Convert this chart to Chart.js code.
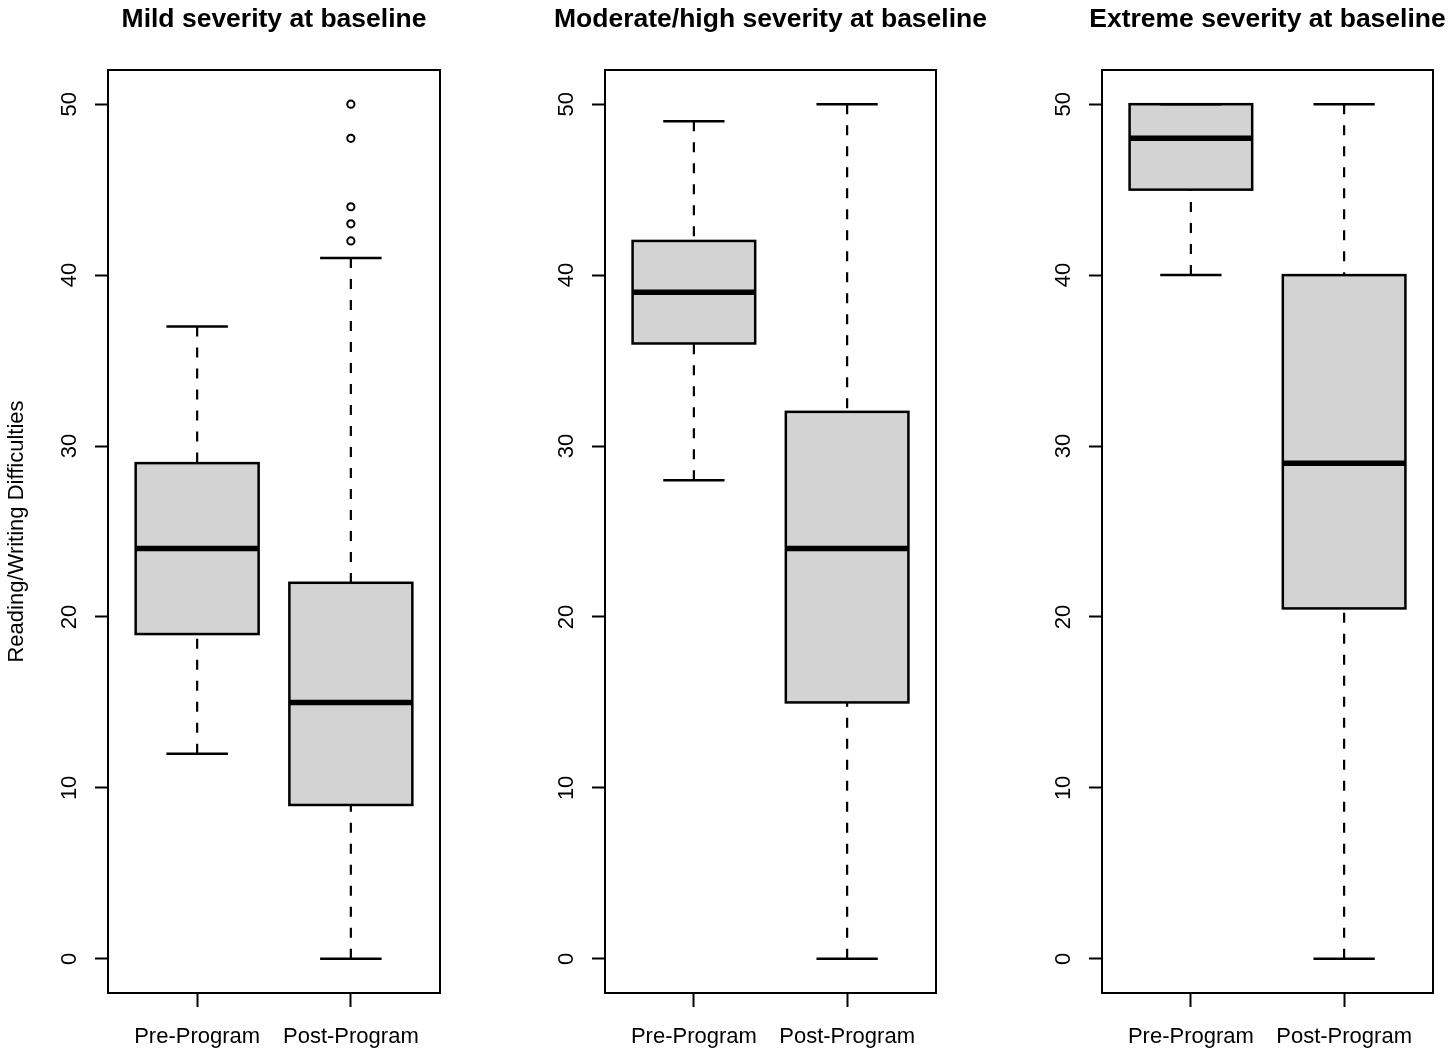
<!DOCTYPE html>
<html>
<head>
<meta charset="utf-8">
<script src="https://cdn.jsdelivr.net/npm/chart.js@4.4.1/dist/chart.umd.min.js"></script>
<style>
html,body{margin:0;padding:0;background:#fff;overflow:hidden;width:1451px;height:1054px;}
canvas{position:absolute;top:0;}
</style>
</head>
<body>
<canvas id="c0"></canvas>
<canvas id="c1"></canvas>
<canvas id="c2"></canvas>
<script>
// ---------- data ----------
const panelTitles = ["Mild severity at baseline", "Moderate/high severity at baseline", "Extreme severity at baseline"];
const categories = ["Pre-Program", "Post-Program"];
const yTickValues = [0, 10, 20, 30, 40, 50];
const yAxisTitle = "Reading/Writing Difficulties";
// five-number summaries per group: [min whisker, Q1, median, Q3, max whisker]
const mildStats     = [[12, 19, 24, 29, 37], [0, 9, 15, 22, 41]];
const moderateStats = [[28, 36, 39, 42, 49], [0, 15, 24, 32, 50]];
const extremeStats  = [[40, 45, 48, 50, 50], [0, 20.5, 29, 40, 50]];
// outliers per group
const mildOutliers     = [[], [42, 43, 44, 48, 50]];
const moderateOutliers = [[], []];
const extremeOutliers  = [[], []];

// ---------- layout ----------
const FONT = '"Liberation Sans", Arial, Helvetica, sans-serif';
Chart.defaults.font.family = FONT;
Chart.defaults.color = '#000';
const H = 1054;
const frames = [[108, 440], [605, 936], [1102, 1433]];
const AXIS_W = 108, X_AXIS_H = 61;

const boxPlugin = {
  id: 'boxplot',
  beforeDatasetsDraw(chart, args, opts) {
    const {ctx, scales: {x, y}} = chart;
    opts.stats.forEach((s, i) => {
      const cx = x.getPixelForValue(i + 1);
      const hw = x.getPixelForValue(i + 1 + 0.4) - cx;
      const sw = hw / 2;
      const [mn, q1, md, q3, mx] = s.map(v => y.getPixelForValue(v));
      ctx.save();
      ctx.strokeStyle = '#000';
      // box
      ctx.fillStyle = '#d3d3d3';
      ctx.fillRect(cx - hw, q3, 2 * hw, q1 - q3);
      ctx.lineWidth = 2.5;
      ctx.strokeRect(cx - hw, q3, 2 * hw, q1 - q3);
      // whiskers (dashed, drawn from whisker end toward box)
      ctx.lineWidth = 2.2;
      ctx.setLineDash([10, 11]);
      ctx.beginPath();
      if (mn !== q1) { ctx.moveTo(cx, mn); ctx.lineTo(cx, q1); }
      if (mx !== q3) { ctx.moveTo(cx, mx); ctx.lineTo(cx, q3); }
      ctx.stroke();
      ctx.setLineDash([]);
      // staples
      ctx.lineWidth = 2.5;
      ctx.beginPath();
      ctx.moveTo(cx - sw, mn); ctx.lineTo(cx + sw, mn);
      ctx.moveTo(cx - sw, mx); ctx.lineTo(cx + sw, mx);
      ctx.stroke();
      // median
      ctx.lineWidth = 5.5;
      ctx.beginPath();
      ctx.moveTo(cx - hw, md); ctx.lineTo(cx + hw, md);
      ctx.stroke();
      ctx.restore();
    });
  },
  afterDraw(chart) {
    const {ctx, chartArea: a, scales: {y}} = chart;
    ctx.save();
    ctx.strokeStyle = '#000';
    ctx.lineWidth = 2;
    ctx.strokeRect(a.left, a.top, a.right - a.left, a.bottom - a.top);
    // rotated y tick labels (R style)
    ctx.fillStyle = '#000';
    ctx.font = '22px ' + FONT;
    ctx.textAlign = 'center';
    ctx.textBaseline = 'middle';
    y.ticks.forEach(t => {
      const py = y.getPixelForValue(t.value);
      ctx.save();
      ctx.translate(a.left - 39, py);
      ctx.rotate(-Math.PI / 2);
      ctx.fillText(String(t.value), 0, 1);
      ctx.restore();
    });
    ctx.restore();
  }
};

function makePanel(idx, stats, outliers) {
  const [fl, fr] = frames[idx];
  const canvas = document.getElementById('c' + idx);
  const W = (fr - fl) + 2 * AXIS_W;   // symmetric so the title centres on the plot
  canvas.width = W; canvas.height = H;
  canvas.style.width = W + 'px'; canvas.style.height = H + 'px';
  canvas.style.left = (fl - AXIS_W) + 'px';
  const outlierPts = [];
  outliers.forEach((arr, i) => arr.forEach(v => outlierPts.push({x: i + 1, y: v})));
  return new Chart(canvas, {
    type: 'scatter',
    data: {
      datasets: [{
        data: outlierPts,
        pointStyle: 'circle',
        pointRadius: 3.6,
        pointBorderWidth: 2,
        pointBorderColor: '#000',
        pointBackgroundColor: 'rgba(0,0,0,0)'
      }]
    },
    options: {
      responsive: false,
      animation: false,
      devicePixelRatio: 1,
      events: [],
      layout: {padding: 0},
      plugins: {
        legend: {display: false},
        tooltip: {enabled: false},
        title: {
          display: true,
          text: panelTitles[idx],
          color: '#000',
          font: {size: 26.5, weight: 'bold', family: FONT},
          padding: {top: 4, bottom: 34.2}
        },
        boxplot: {stats: stats}
      },
      scales: {
        x: {
          type: 'linear',
          min: 0.42, max: 2.58,
          afterBuildTicks: s => { s.ticks = categories.map((c, i) => ({value: i + 1})); },
          afterFit: s => { s.height = X_AXIS_H; },
          ticks: {
            callback: v => categories[v - 1],
            font: {size: 22, family: FONT},
            color: '#000',
            padding: 17,
            autoSkip: false,
            maxRotation: 0, minRotation: 0
          },
          grid: {drawOnChartArea: false, drawTicks: true, tickLength: 14, tickColor: '#000', tickWidth: 2},
          border: {display: false}
        },
        y: {
          min: -2, max: 52,
          afterBuildTicks: s => { s.ticks = yTickValues.map(v => ({value: v})); },
          afterFit: s => { s.width = AXIS_W; },
          ticks: {display: false},
          grid: {drawOnChartArea: false, drawTicks: true, tickLength: 13, tickColor: '#000', tickWidth: 2},
          border: {display: false},
          title: {
            display: idx === 0,
            text: yAxisTitle,
            color: '#000',
            font: {size: 22, family: FONT},
            padding: {top: 4, bottom: 0}
          }
        },
        // empty right-hand spacer axis, keeps the plot centred under the title
        spacer: {
          type: 'linear',
          position: 'right',
          afterFit: s => { s.width = AXIS_W; },
          ticks: {display: false},
          grid: {display: false},
          border: {display: false}
        }
      }
    },
    plugins: [boxPlugin]
  });
}

makePanel(0, mildStats, mildOutliers);
makePanel(1, moderateStats, moderateOutliers);
makePanel(2, extremeStats, extremeOutliers);
</script>
</body>
</html>
